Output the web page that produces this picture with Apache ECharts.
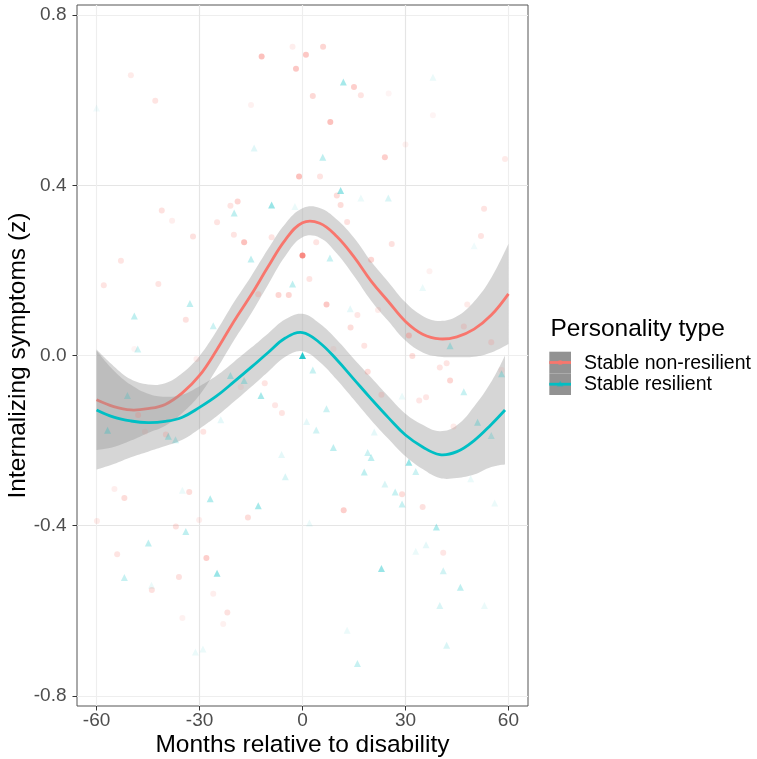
<!DOCTYPE html>
<html><head><meta charset="utf-8">
<script src="https://cdn.jsdelivr.net/npm/echarts@6/dist/echarts.min.js"></script>
<style>html,body{margin:0;padding:0;background:#fff}#c{width:757px;height:759px}</style>
</head><body><div id="c"></div>
<script>
// ---------- data ----------
const xTicks = [-60, -30, 0, 30, 60];
const yTicks = [-0.8, -0.4, 0, 0.4, 0.8];
const groupNames = ['Stable non-resilient', 'Stable resilient'];

// smoothed fits + confidence band (Stable non-resilient)
const nrX   = [-60,-55,-50,-45,-40,-35,-30,-25,-20,-15,-10,-5,0,5,10,15,20,25,30,35,40,45,50,55,60];
const nrFit = [-0.104,-0.120,-0.128,-0.125,-0.115,-0.088,-0.047,0.013,0.080,0.142,0.209,0.272,0.312,0.311,0.280,0.232,0.175,0.127,0.080,0.050,0.039,0.044,0.062,0.095,0.145];
const nrHi  = [0.014,-0.025,-0.056,-0.068,-0.065,-0.041,-0.001,0.058,0.125,0.186,0.251,0.310,0.346,0.347,0.320,0.277,0.221,0.173,0.125,0.093,0.081,0.092,0.127,0.183,0.263];
const nrLo  = [-0.222,-0.215,-0.200,-0.182,-0.165,-0.135,-0.093,-0.032,0.035,0.098,0.167,0.234,0.278,0.277,0.240,0.187,0.129,0.081,0.035,0.007,-0.003,-0.004,-0.003,0.007,0.027];

// smoothed fits + confidence band (Stable resilient)
const rX   = [-60,-55,-50,-45,-40,-35,-30,-25,-20,-15,-10,-5,0,5,10,15,20,25,30,35,40,45,50,55,59];
const rFit = [-0.128,-0.145,-0.154,-0.158,-0.155,-0.145,-0.122,-0.095,-0.062,-0.028,0.007,0.041,0.054,0.030,-0.010,-0.056,-0.102,-0.146,-0.187,-0.215,-0.233,-0.226,-0.200,-0.162,-0.128];
const rHi  = [0.012,-0.035,-0.069,-0.090,-0.097,-0.092,-0.072,-0.047,-0.015,0.018,0.052,0.085,0.098,0.075,0.037,-0.008,-0.052,-0.096,-0.137,-0.163,-0.178,-0.164,-0.120,-0.062,0.000];
const rLo  = [-0.268,-0.255,-0.239,-0.226,-0.213,-0.198,-0.172,-0.143,-0.109,-0.074,-0.038,-0.003,0.010,-0.015,-0.057,-0.104,-0.152,-0.196,-0.237,-0.267,-0.288,-0.288,-0.280,-0.262,-0.256];

// individual observations: month, score, weight (mapped to alpha)
const nrPtX = [-11.9,-2.9,1.0,-1.9,-50,-42.9,-15,-1.0,-18.9,-21,-41,-38,-24.9,-31.9,-20,6.0,15.0,17.0,3.0,25.1,38,8.1,30,24,59,5.1,10,11.1,13,52.9,52,-17,-9,0,-52.9,-57.9,-42,-7,-4,-12.9,-34,-49,-30.9,-11,-18,-8,-6,-47.9,-28.9,-39.8,-45.9,4,26,20,37,2,7,16,22,14,48,47,31,55,18,9,32,40,42,43,19,58,34,36,23,44,-54.8,-51.9,-33,-15.9,-59.9,-30.1,-36.9,-54,-28,-36,-43.9,-26,-21.9,-23.1,-35,29,12,35,41];
const nrPtY = [0.703,0.726,0.707,0.674,0.659,0.599,0.589,0.421,0.362,0.352,0.341,0.317,0.313,0.280,0.284,0.726,0.631,0.612,0.610,0.616,0.565,0.549,0.496,0.466,0.462,0.421,0.376,0.354,0.314,0.345,0.281,0.266,0.278,0.235,0.223,0.165,0.168,0.142,0.142,0.144,0.084,0.015,-0.008,-0.065,-0.074,-0.117,-0.135,-0.140,-0.179,-0.186,-0.179,0.266,0.262,0.225,0.198,0.180,0.120,0.095,0.107,0.066,0.120,0.068,0.047,0.031,0.023,0.015,-0.001,-0.028,-0.018,-0.059,-0.038,-0.034,-0.106,-0.098,-0.092,-0.167,-0.314,-0.335,-0.321,-0.381,-0.389,-0.387,-0.402,-0.467,-0.476,-0.521,-0.551,-0.560,-0.604,-0.631,-0.617,-0.326,-0.364,-0.356,-0.464];
const nrPtW = [0.45,0.12,0.4,0.4,0.15,0.2,0.1,0.45,0.3,0.2,0.22,0.12,0.2,0.22,0.2,0.3,0.35,0.2,0.28,0.08,0.08,0.45,0.1,0.35,0.15,0.2,0.25,0.25,0.22,0.2,0.2,0.45,0.2,0.85,0.2,0.2,0.2,0.3,0.3,0.2,0.22,0.08,0.12,0.2,0.1,0.18,0.2,0.22,0.2,0.2,0.1,0.2,0.22,0.3,0.1,0.2,0.4,0.18,0.15,0.25,0.15,0.18,0.35,0.18,0.2,0.1,0.25,0.2,0.2,0.3,0.25,0.1,0.18,0.18,0.18,0.15,0.12,0.25,0.25,0.25,0.15,0.12,0.22,0.2,0.35,0.22,0.22,0.12,0.22,0.1,0.1,0.25,0.35,0.22,0.18];

const rPtX = [-60,-14.1,-19.9,-9.0,-2.2,11.9,38,5.9,11.1,17,25,-15,-2.9,-32.8,-49,-26,-48,0,-21,-17,-12.1,-51,-23.8,-56.8,-39.1,-37,-6.1,1.2,8,50,35,13.9,43,3,58,47,29,7,51,55,20.9,4,9,19,20,31,-35,-26.9,-12.9,-5,-34,-44.9,-24.9,-51.9,-44,-31.2,-29,18,24,27,29,2,39,36,33,23,41,46,40,53,13,42,16,49,56,33];
const rPtY = [0.582,0.488,0.335,0.354,0.350,0.643,0.654,0.466,0.388,0.370,0.370,0.227,0.168,0.122,0.093,0.070,0.015,0.000,-0.047,-0.059,-0.094,-0.094,-0.151,-0.176,-0.190,-0.198,-0.233,-0.155,0.229,0.258,0.160,0.110,0.023,-0.034,-0.043,-0.085,-0.095,-0.125,-0.157,-0.188,-0.180,-0.175,-0.216,-0.228,-0.240,-0.251,-0.317,-0.337,-0.353,-0.285,-0.414,-0.441,-0.512,-0.522,-0.540,-0.697,-0.690,-0.274,-0.302,-0.321,-0.349,-0.394,-0.403,-0.445,-0.460,-0.501,-0.506,-0.545,-0.588,-0.588,-0.646,-0.681,-0.724,-0.290,-0.347,-0.273];
const rPtW = [0.06,0.12,0.25,0.4,0.08,0.35,0.08,0.25,0.4,0.08,0.15,0.25,0.25,0.25,0.25,0.2,0.2,0.85,0.25,0.25,0.35,0.2,0.1,0.25,0.25,0.2,0.1,0.1,0.22,0.06,0.08,0.1,0.25,0.22,0.25,0.22,0.08,0.2,0.25,0.2,0.1,0.18,0.25,0.2,0.25,0.4,0.08,0.3,0.35,0.15,0.25,0.25,0.4,0.22,0.08,0.08,0.08,0.25,0.15,0.22,0.22,0.08,0.3,0.1,0.08,0.4,0.18,0.25,0.15,0.08,0.08,0.15,0.22,0.08,0.08,0.2];

// ---------- styling ----------
const RED = '#F8766D', CYAN = '#00BFC4';
const FONT = '"Liberation Sans", Arial, Helvetica, sans-serif';
const SMOOTH = 0.4;

function curve(p, s, start) {
  const dist = (a, b) => Math.hypot(a[0] - b[0], a[1] - b[1]) || 1e-6;
  let d = (start ? 'M' : 'L') + p[0][0] + ' ' + p[0][1];
  const n = p.length;
  for (let i = 0; i < n - 1; i++) {
    const a = p[i], b = p[i + 1];
    let c1, c2;
    if (i === 0) c1 = a; else {
      const pr = p[i - 1];
      const vx = b[0] - pr[0], vy = b[1] - pr[1];
      const r = dist(b, a) / (dist(a, pr) + dist(b, a));
      c1 = [a[0] + vx * s * r, a[1] + vy * s * r];
    }
    if (i + 1 === n - 1) c2 = b; else {
      const nx = p[i + 2];
      const vx = nx[0] - a[0], vy = nx[1] - a[1];
      const r = dist(nx, b) / (dist(b, a) + dist(nx, b));
      c2 = [b[0] - vx * s * (1 - r), b[1] - vy * s * (1 - r)];
    }
    d += ' C' + c1[0] + ' ' + c1[1] + ' ' + c2[0] + ' ' + c2[1] + ' ' + b[0] + ' ' + b[1];
  }
  return d;
}
function bandRenderer(xs, lo, hi) {
  return function (params, api) {
    if (params.dataIndex !== 0) return null;
    const up = xs.map((x, i) => api.coord([x, hi[i]]));
    const dn = xs.map((x, i) => api.coord([x, lo[i]])).reverse();
    const d = curve(up, SMOOTH, true) + ' ' + curve(dn, SMOOTH, false) + ' Z';
    return { type: 'path', shape: { pathData: d }, style: { fill: 'rgba(153,153,153,0.4)', stroke: null } };
  };
}
function lineRenderer(xs, ys, color) {
  return function (params, api) {
    if (params.dataIndex !== 0) return null;
    const p = xs.map((x, i) => api.coord([x, ys[i]]));
    return { type: 'path', shape: { pathData: curve(p, SMOOTH, true) }, style: { fill: null, stroke: color, lineWidth: 2.8, lineJoin: 'round', lineCap: 'butt' } };
  };
}
function pts(xs, ys, ws) {
  return xs.map((x, i) => ({ value: [x, ys[i]], itemStyle: { opacity: ws[i] } }));
}

const chart = echarts.init(document.getElementById('c'), null, { renderer: 'canvas' });
const gridLineColors = ['#eeeeee', '#e5e5e5'];

chart.setOption({
  animation: false,
  backgroundColor: '#ffffff',
  grid: { left: 77, top: 5, width: 451, height: 701, show: true, borderColor: '#555555', borderWidth: 1, backgroundColor: 'transparent', containLabel: false, outerBoundsMode: 'none' },
  xAxis: {
    type: 'value', min: -65.7, max: 65.7, interval: 15, position: 'bottom',
    axisLine: { show: false, onZero: false },
    axisTick: { show: true, customValues: xTicks, length: 4.5, lineStyle: { color: '#333333', width: 1 } },
    axisLabel: { customValues: xTicks, margin: 5, color: '#4d4d4d', fontSize: 19, fontFamily: FONT, formatter: v => String(v) },
    splitLine: { show: true, lineStyle: { color: gridLineColors, width: 1.2 } }
  },
  yAxis: {
    type: 'value', min: -0.824, max: 0.824, interval: 0.2, position: 'left',
    axisLine: { show: false, onZero: false },
    axisTick: { show: true, customValues: yTicks, length: 4.5, lineStyle: { color: '#333333', width: 1 } },
    axisLabel: { customValues: yTicks, margin: 10.5, color: '#4d4d4d', fontSize: 19, fontFamily: FONT, formatter: v => v.toFixed(1) },
    splitLine: { show: true, lineStyle: { color: gridLineColors, width: 1.2 } }
  },
  series: [
    { name: groupNames[0], type: 'scatter', symbol: 'circle', symbolSize: 6, itemStyle: { color: RED }, data: pts(nrPtX, nrPtY, nrPtW), silent: true },
    { name: groupNames[1], type: 'scatter', symbol: 'triangle', symbolSize: 7, itemStyle: { color: CYAN }, data: pts(rPtX, rPtY, rPtW), silent: true },
    { type: 'custom', renderItem: bandRenderer(nrX, nrLo, nrHi), data: nrX.map((x, i) => [x, nrLo[i], nrHi[i]]), encode: { x: 0, y: [1, 2] }, silent: true },
    { name: groupNames[0], type: 'custom', renderItem: lineRenderer(nrX, nrFit, RED), data: nrX.map((x, i) => [x, nrFit[i]]), encode: { x: 0, y: 1 }, silent: true },
    { type: 'custom', renderItem: bandRenderer(rX, rLo, rHi), data: rX.map((x, i) => [x, rLo[i], rHi[i]]), encode: { x: 0, y: [1, 2] }, silent: true },
    { name: groupNames[1], type: 'custom', renderItem: lineRenderer(rX, rFit, CYAN), data: rX.map((x, i) => [x, rFit[i]]), encode: { x: 0, y: 1 }, silent: true }
  ],
  graphic: [
    { type: 'text', x: 302.5, y: 745.5, style: { text: 'Months relative to disability', fontSize: 24.5, fontFamily: FONT, fill: '#000', align: 'center', verticalAlign: 'middle', textAlign: 'center', textVerticalAlign: 'middle' } },
    { type: 'text', x: 18.5, y: 355.5, rotation: Math.PI / 2, style: { text: 'Internalizing symptoms (z)', fontSize: 24.5, fontFamily: FONT, fill: '#000', align: 'center', verticalAlign: 'middle', textAlign: 'center', textVerticalAlign: 'middle' } },
    { type: 'text', x: 550.5, y: 329, style: { text: 'Personality type', fontSize: 24.5, fontFamily: FONT, fill: '#000', align: 'left', verticalAlign: 'middle', textAlign: 'left', textVerticalAlign: 'middle' } },
    { type: 'rect', shape: { x: 549.3, y: 351.7, width: 21.7, height: 21.65 }, style: { fill: '#929292' } },
    { type: 'rect', shape: { x: 549.3, y: 373.35, width: 21.7, height: 21.65 }, style: { fill: '#929292' } },
    { type: 'line', shape: { x1: 549.3, y1: 362.5, x2: 571, y2: 362.5 }, style: { stroke: RED, lineWidth: 2.8 } },
    { type: 'circle', shape: { cx: 560.2, cy: 362.5, r: 2.6 }, style: { fill: RED, opacity: 0.6 } },
    { type: 'line', shape: { x1: 549.3, y1: 384.2, x2: 571, y2: 384.2 }, style: { stroke: CYAN, lineWidth: 2.8 } },
    { type: 'polygon', shape: { points: [[560.2, 380.7], [563.5, 386.4], [556.9, 386.4]] }, style: { fill: CYAN, opacity: 0.6 } },
    { type: 'text', x: 584, y: 363.5, style: { text: groupNames[0], fontSize: 19.5, fontFamily: FONT, fill: '#000', align: 'left', verticalAlign: 'middle', textAlign: 'left', textVerticalAlign: 'middle' } },
    { type: 'text', x: 584, y: 384.5, style: { text: groupNames[1], fontSize: 19.5, fontFamily: FONT, fill: '#000', align: 'left', verticalAlign: 'middle', textAlign: 'left', textVerticalAlign: 'middle' } }
  ]
});
</script>
</body></html>
